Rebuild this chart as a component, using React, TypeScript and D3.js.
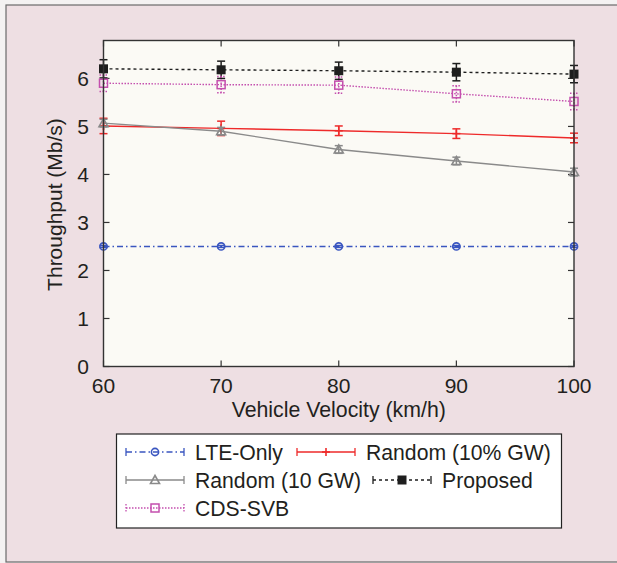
import React from "react";
import * as d3 from "d3";

// Vehicle velocity (km/h)
const velocities = [60, 70, 80, 90, 100];

// Throughput means (Mb/s)
const lteOnly = [2.5, 2.5, 2.5, 2.5, 2.5];
const random10pct = [5.01, 4.96, 4.91, 4.85, 4.76];
const random10gw = [5.07, 4.9, 4.52, 4.28, 4.05];
const proposed = [6.2, 6.18, 6.16, 6.13, 6.09];
const cdsSvb = [5.9, 5.87, 5.86, 5.68, 5.52];

// Error-bar half widths (Mb/s)
const lteOnlyErr = [0.02, 0.02, 0.02, 0.02, 0.02];
const random10pctErr = [0.16, 0.15, 0.1, 0.1, 0.1];
const random10gwErr = [0.08, 0.08, 0.08, 0.08, 0.08];
const proposedErr = [0.19, 0.18, 0.18, 0.18, 0.18];
const cdsSvbErr = [0.17, 0.17, 0.17, 0.17, 0.17];

const xTicks = [60, 70, 80, 90, 100];
const yTicks = [0, 1, 2, 3, 4, 5, 6];

const W = 617;
const H = 563;
const plot = { left: 103.5, right: 574, top: 40.5, bottom: 366.5 };
const FONT = "'Liberation Sans', Arial, Helvetica, sans-serif";
const INK = "#231f20";

type Marker = "circle" | "plus" | "triangle" | "squareFilled" | "squareOpen";

interface Series {
  name: string;
  values: number[];
  errors: number[];
  color: string;
  dash: string;
  marker: Marker;
  errDash: string;
}

const series: Series[] = [
  { name: "LTE-Only", values: lteOnly, errors: lteOnlyErr, color: "#3a56c0", dash: "6,3,1.5,3", marker: "circle", errDash: "" },
  { name: "Random (10% GW)", values: random10pct, errors: random10pctErr, color: "#ee2a2a", dash: "", marker: "plus", errDash: "" },
  { name: "Random (10 GW)", values: random10gw, errors: random10gwErr, color: "#8a8a8a", dash: "", marker: "triangle", errDash: "" },
  { name: "Proposed", values: proposed, errors: proposedErr, color: "#1e1e1e", dash: "3,3", marker: "squareFilled", errDash: "" },
  { name: "CDS-SVB", values: cdsSvb, errors: cdsSvbErr, color: "#c44fae", dash: "1.5,1.5", marker: "squareOpen", errDash: "1.5,1.5" },
];

function MarkerShape({ type, x, y, color }: { type: Marker; x: number; y: number; color: string }) {
  switch (type) {
    case "circle":
      return <circle cx={x} cy={y} r={3.6} fill="none" stroke={color} strokeWidth={1.6} />;
    case "plus":
      return (
        <g stroke={color} strokeWidth={1.6}>
          <line x1={x - 4} x2={x + 4} y1={y} y2={y} />
          <line x1={x} x2={x} y1={y - 4} y2={y + 4} />
        </g>
      );
    case "triangle":
      return (
        <path
          d={`M${x},${y - 4.5}L${x + 4.5},${y + 3.5}L${x - 4.5},${y + 3.5}Z`}
          fill="none"
          stroke={color}
          strokeWidth={1.6}
        />
      );
    case "squareFilled":
      return <rect x={x - 4.5} y={y - 4.5} width={9} height={9} fill={color} />;
    case "squareOpen":
      return <rect x={x - 4} y={y - 4} width={8} height={8} fill="none" stroke={color} strokeWidth={1.5} />;
  }
}

export default function App() {
  const x = d3.scaleLinear().domain([60, 100]).range([plot.left, plot.right]);
  const y = d3.scaleLinear().domain([0, 6.79]).range([plot.bottom, plot.top]);

  const line = d3
    .line<[number, number]>()
    .x((d) => x(d[0]))
    .y((d) => y(d[1]));

  const capW = 4;

  // Legend layout: [series index, sample start x, row y, label x]
  const legendItems: [number, number, number, number][] = [
    [0, 126, 452, 195],
    [1, 297, 452, 366],
    [2, 126, 480, 195],
    [3, 373, 480, 442],
    [4, 126, 508, 195],
  ];
  const sampleLen = 58;

  return (
    <svg
      width={W}
      height={H}
      style={{ position: "absolute", left: 0, top: 0, display: "block" }}
      fontFamily={FONT}
    >
      <rect x={0} y={0} width={W} height={H} fill="#f4f2f2" />
      <rect x={6} y={5} width={W} height={557} fill="#eedfe3" stroke="#6a6a6a" strokeWidth={1.2} />

      {/* plot area */}
      <rect
        x={plot.left}
        y={plot.top}
        width={plot.right - plot.left}
        height={plot.bottom - plot.top}
        fill="#fbfaf5"
      />

      {/* ticks on all four sides */}
      <g stroke="#333" strokeWidth={1.2}>
        {xTicks.map((t) => (
          <g key={"xt" + t}>
            <line x1={x(t)} x2={x(t)} y1={plot.bottom} y2={plot.bottom - 6} />
            <line x1={x(t)} x2={x(t)} y1={plot.top} y2={plot.top + 6} />
          </g>
        ))}
        {yTicks.map((t) => (
          <g key={"yt" + t}>
            <line x1={plot.left} x2={plot.left + 6} y1={y(t)} y2={y(t)} />
            <line x1={plot.right} x2={plot.right - 6} y1={y(t)} y2={y(t)} />
          </g>
        ))}
      </g>

      {/* series lines */}
      {series.map((s) => (
        <path
          key={"l" + s.name}
          d={line(velocities.map((v, i) => [v, s.values[i]] as [number, number])) || ""}
          fill="none"
          stroke={s.color}
          strokeWidth={1.4}
          strokeDasharray={s.dash}
        />
      ))}

      {/* error bars and markers */}
      {series.map((s) => (
        <g key={"e" + s.name}>
          {velocities.map((v, i) => {
            const cx = x(v);
            const y1 = y(s.values[i] + s.errors[i]);
            const y0 = y(s.values[i] - s.errors[i]);
            return (
              <g key={v}>
                <g stroke={s.color} strokeWidth={1.5} strokeDasharray={s.errDash}>
                  <line x1={cx} x2={cx} y1={y1} y2={y0} />
                  <line x1={cx - capW} x2={cx + capW} y1={y1} y2={y1} />
                  <line x1={cx - capW} x2={cx + capW} y1={y0} y2={y0} />
                </g>
                <MarkerShape type={s.marker} x={cx} y={y(s.values[i])} color={s.color} />
              </g>
            );
          })}
        </g>
      ))}

      {/* axes frame */}
      <rect
        x={plot.left}
        y={plot.top}
        width={plot.right - plot.left}
        height={plot.bottom - plot.top}
        fill="none"
        stroke="#333"
        strokeWidth={1.4}
      />

      {/* tick labels */}
      <g fill={INK} fontSize={21}>
        {xTicks.map((t) => (
          <text key={"xl" + t} x={x(t)} y={392.5} textAnchor="middle">
            {t}
          </text>
        ))}
        {yTicks.map((t) => (
          <text key={"yl" + t} x={89} y={y(t) + 7.5} textAnchor="end">
            {t}
          </text>
        ))}
      </g>

      {/* axis titles */}
      <text x={x(80)} y={416.5} textAnchor="middle" fontSize={21.3} fill={INK}>
        Vehicle Velocity (km/h)
      </text>
      <text
        transform={`translate(62,${(plot.top + plot.bottom) / 2 + 1}) rotate(-90)`}
        textAnchor="middle"
        fontSize={21}
        fill={INK}
      >
        Throughput (Mb/s)
      </text>

      {/* legend */}
      <rect x={116.5} y={434} width={445} height={94} fill="#ffffff" stroke="#222" strokeWidth={1.2} />
      {legendItems.map(([idx, sx, ry, lx]) => {
        const s = series[idx];
        const mid = sx + sampleLen / 2;
        return (
          <g key={"lg" + s.name}>
            <g stroke={s.color} strokeWidth={1.3}>
              <line x1={sx} x2={sx + sampleLen} y1={ry} y2={ry} strokeDasharray={s.dash} />
              <line x1={sx} x2={sx} y1={ry - 4} y2={ry + 4} strokeDasharray={s.errDash} />
              <line x1={sx + sampleLen} x2={sx + sampleLen} y1={ry - 4} y2={ry + 4} strokeDasharray={s.errDash} />
            </g>
            <MarkerShape type={s.marker} x={mid} y={ry} color={s.color} />
            <text x={lx} y={ry + 7.5} fontSize={21.2} fill={INK}>
              {s.name}
            </text>
          </g>
        );
      })}
    </svg>
  );
}
